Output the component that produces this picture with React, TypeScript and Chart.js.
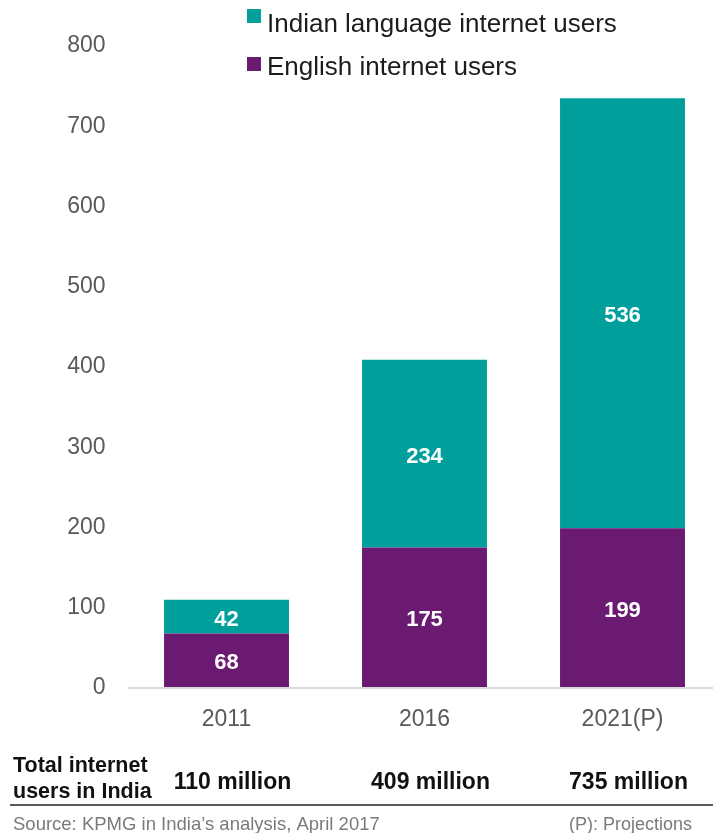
import React, { useEffect, useRef } from "react";
import { Chart, registerables } from "chart.js";

Chart.register(...registerables);

const categories = ["2011", "2016", "2021(P)"];
const englishUsers = [68, 175, 199];
const indianLanguageUsers = [42, 234, 536];
const seriesNames = ["English internet users", "Indian language internet users"];
const seriesColors = ["#6A1A70", "#009F9C"];
const yMin = 0;
const yMax = 800;
const yStep = 100;
const totalRowLabel = ["Total internet", "users in India"];
const totalUnit = "million";
const sourceText = "Source: KPMG in India\u2019s analysis, April 2017";
const noteText = "(P): Projections";

const FONT = "'Liberation Sans', Arial, Helvetica, sans-serif";

const barLabelPlugin = {
  id: "barLabels",
  afterDatasetsDraw(chart: any) {
    const ctx = chart.ctx;
    ctx.save();
    ctx.fillStyle = "#ffffff";
    ctx.font = `bold 22px ${FONT}`;
    ctx.textAlign = "center";
    ctx.textBaseline = "middle";
    chart.data.datasets.forEach((ds: any, di: number) => {
      const meta = chart.getDatasetMeta(di);
      meta.data.forEach((el: any, i: number) => {
        const y = (el.y + el.base) / 2 + 3;
        ctx.fillText(String(ds.data[i]), el.x, y);
      });
    });
    ctx.restore();
  },
};

const legendPlugin = {
  id: "customLegend",
  afterDraw(chart: any) {
    const ctx = chart.ctx;
    ctx.save();
    const items = chart.data.datasets.map((d: any) => ({ label: d.label, color: d.backgroundColor })).reverse();
    const rows = [
      { boxY: 9, baseY: 32 },
      { boxY: 57, baseY: 75 },
    ];
    ctx.font = `26px ${FONT}`;
    ctx.textBaseline = "alphabetic";
    ctx.textAlign = "left";
    items.forEach((it: any, i: number) => {
      const r = rows[i];
      ctx.fillStyle = it.color;
      ctx.fillRect(247, r.boxY, 14, 14);
      ctx.fillStyle = "#1c1c1c";
      ctx.fillText(it.label, 267, r.baseY);
    });
    ctx.restore();
  },
};

const footerPlugin = {
  id: "footer",
  afterDraw(chart: any) {
    const ctx = chart.ctx;
    const xScale = chart.scales.x;
    ctx.save();
    ctx.fillStyle = "#111111";
    ctx.font = `bold 21.5px ${FONT}`;
    ctx.textAlign = "left";
    ctx.textBaseline = "alphabetic";
    ctx.fillText(totalRowLabel[0], 13, 772);
    ctx.fillText(totalRowLabel[1], 13, 798);
    ctx.font = `bold 23px ${FONT}`;
    ctx.textAlign = "center";
    categories.forEach((_c, i) => {
      const total = englishUsers[i] + indianLanguageUsers[i];
      const x = xScale.getPixelForValue(i) + 6;
      ctx.fillText(`${total} ${totalUnit}`, x, 789);
    });
    ctx.strokeStyle = "#5a5a5a";
    ctx.lineWidth = 2;
    ctx.beginPath();
    ctx.moveTo(10, 805);
    ctx.lineTo(722, 805);
    ctx.stroke();
    ctx.fillStyle = "#7a7a7a";
    ctx.font = `18.5px ${FONT}`;
    ctx.textAlign = "left";
    ctx.fillText(sourceText, 13, 830);
    ctx.textAlign = "right";
    ctx.font = `18px ${FONT}`;
    ctx.fillText(noteText, 692, 830);
    ctx.restore();
  },
};

export default function App() {
  const canvasRef = useRef<HTMLCanvasElement | null>(null);

  useEffect(() => {
    const canvas = canvasRef.current;
    if (!canvas) return;
    const chart = new Chart(canvas, {
      type: "bar",
      data: {
        labels: categories,
        datasets: [
          {
            label: seriesNames[0],
            data: englishUsers,
            backgroundColor: seriesColors[0],
            borderWidth: 0,
          },
          {
            label: seriesNames[1],
            data: indianLanguageUsers,
            backgroundColor: seriesColors[1],
            borderWidth: 0,
          },
        ],
      },
      options: {
        responsive: false,
        animation: false,
        devicePixelRatio: 1,
        layout: { padding: { left: 0, right: 0.5, top: 46, bottom: 85 } },
        plugins: {
          legend: { display: false },
          tooltip: { enabled: false },
          title: { display: false },
        },
        datasets: {
          bar: { categoryPercentage: 1, barPercentage: 0.631 },
        },
        scales: {
          x: {
            stacked: true,
            grid: { display: false },
            border: { display: false },
            ticks: {
              color: "#595959",
              font: { family: FONT, size: 23 },
              padding: 10,
              maxRotation: 0,
            },
            afterFit: (s: any) => {
              s.height = 60;
            },
          },
          y: {
            stacked: true,
            min: yMin,
            max: yMax,
            border: { display: false },
            grid: {
              drawTicks: false,
              lineWidth: 2,
              color: (c: any) => (c.tick && c.tick.value === 0 ? "#d9d9d9" : "rgba(0,0,0,0)"),
            },
            ticks: {
              stepSize: yStep,
              color: "#595959",
              font: { family: FONT, size: 23 },
              padding: 22,
            },
            afterFit: (s: any) => {
              s.width = 127.5;
            },
          },
        },
      },
      plugins: [barLabelPlugin, legendPlugin, footerPlugin],
    });
    return () => chart.destroy();
  }, []);

  return (
    <div
      style={{
        position: "fixed",
        left: 0,
        top: 0,
        width: 713,
        height: 833,
        overflow: "hidden",
        background: "#ffffff",
      }}
    >
      <canvas ref={canvasRef} width={722} height={833} style={{ display: "block" }} />
    </div>
  );
}
